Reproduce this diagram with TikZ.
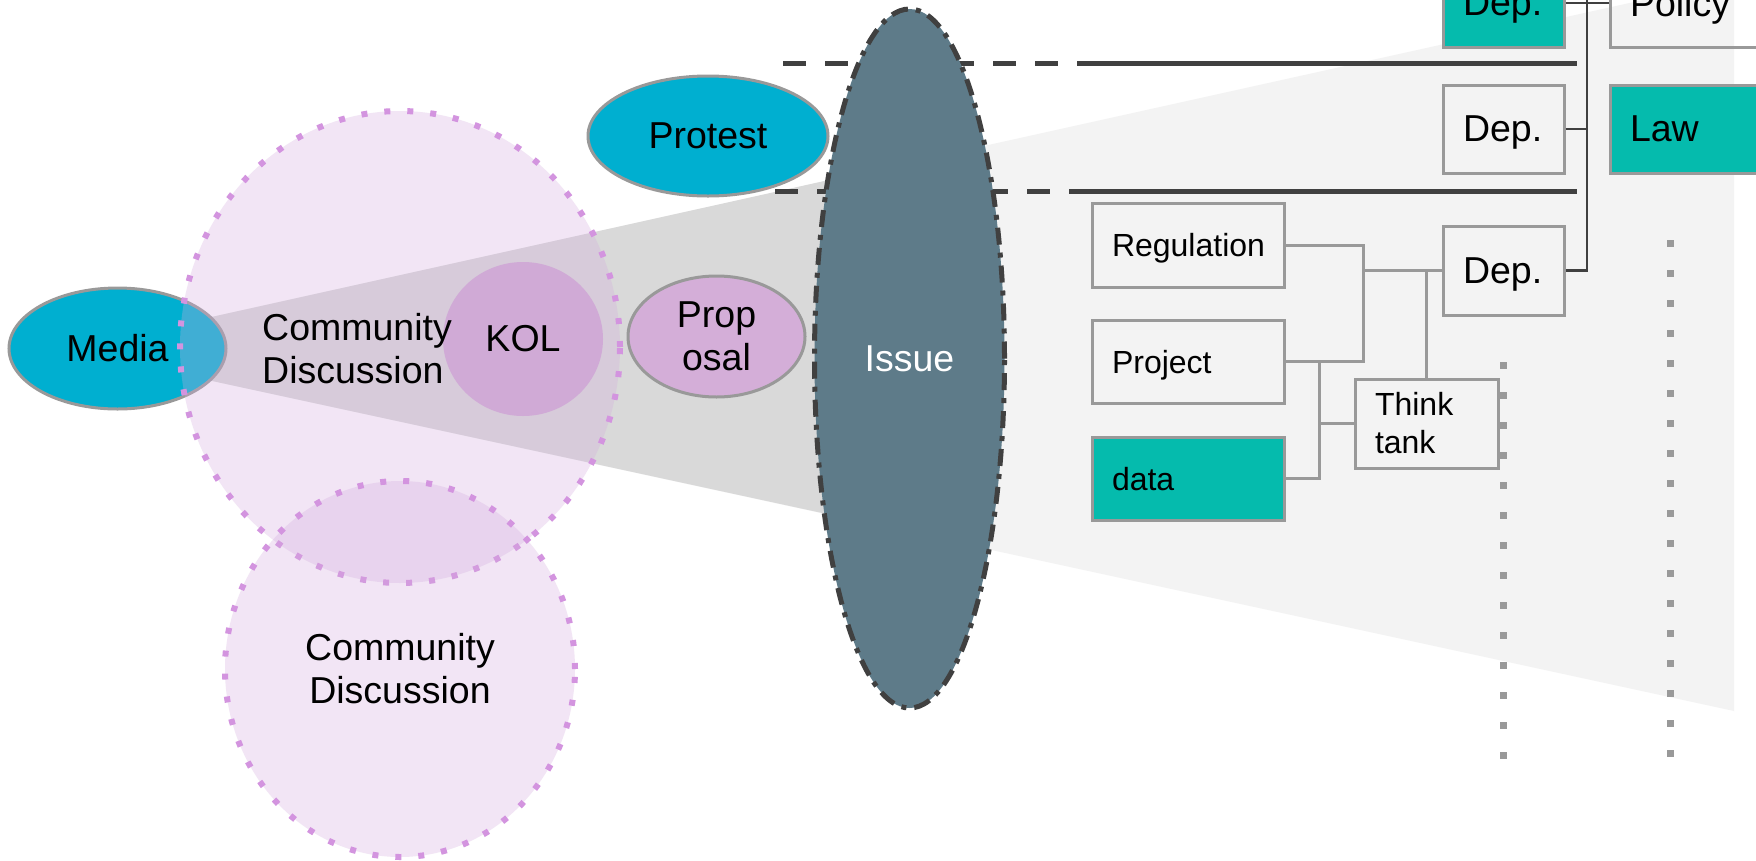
\documentclass[tikz,border=0pt]{standalone}
\usepackage{fontspec}
\setmainfont{Liberation Sans}
\usetikzlibrary{shapes.geometric}
\definecolor{cyanb}{HTML}{00AFD0}
\definecolor{tealb}{HTML}{05BBAD}
\definecolor{issuec}{HTML}{5E7B89}
\definecolor{bgray}{HTML}{999999}
\definecolor{dline}{HTML}{404040}
\definecolor{wedgeL}{HTML}{F3F3F3}
\definecolor{wedgeD}{HTML}{D9D9D9}
\definecolor{purp}{HTML}{D4ACDE}
\definecolor{purpdot}{HTML}{D394DF}
\definecolor{kolc}{HTML}{D0AAD6}
\definecolor{propc}{HTML}{D4AED8}
\tikzset{
  bigtxt/.style={font=\fontsize{37.5}{43}\selectfont},
  smalltxt/.style={font=\fontsize{32}{38}\selectfont},
  blob/.style={ellipse, draw=bgray, line width=3pt, inner sep=0pt},
  commc/.style={ellipse, fill=purp, fill opacity=0.3, text opacity=1, draw=purpdot, draw opacity=1, line width=6pt, dash pattern=on 6pt off 17pt, inner sep=0pt},
  boxbase/.style={rectangle, draw=bgray, line width=3pt, inner xsep=20pt, inner ysep=0pt, align=left},
  box/.style={boxbase, text depth=0pt},
  conn/.style={draw=bgray, line width=3pt},
  bus/.style={draw=dline, line width=2.5pt},
  dashln/.style={draw=dline, line width=5pt, dash pattern=on 23pt off 19pt},
  solidln/.style={draw=dline, line width=5pt},
  dotln/.style={draw=bgray, line width=7pt, dash pattern=on 7pt off 23pt},
  issuest/.style={ellipse, fill=issuec, draw=dline, line width=5pt, dash pattern=on 17pt off 8pt on 5pt off 8pt, inner sep=0pt, text=white}
}
\begin{document}
\begin{tikzpicture}[x=1pt,y=-1pt]
\useasboundingbox (0,0) rectangle (1756,860);
\fill[white] (0,0) rectangle (1756,860);

% wedges
\fill[wedgeL] (180,324) -- (1643,0) -- (1734,0) -- (1734,711) -- (180,374) -- cycle;
\fill[wedgeD] (180,324) -- (910,162) -- (910,532) -- (180,374) -- cycle;

% media
\node[blob, fill=cyanb, minimum width=217pt, minimum height=121pt, bigtxt] (media) at (117.5,348.5) {Media};

% community circles
\node[commc, minimum width=440pt, minimum height=472pt] (cd1) at (400,347) {};
\node[commc, minimum width=350pt, minimum height=376pt, bigtxt, align=center] (cd2) at (400,669) {Community\\Discussion};

% KOL
\node[ellipse, fill=kolc, minimum width=160pt, minimum height=154pt, inner sep=0pt, bigtxt] (kol) at (523,339) {KOL};
\node[bigtxt, align=left, anchor=west, inner sep=0pt] (cdt1) at (262,348.5) {Community\\Discussion};

% proposal, protest
\node[blob, fill=propc, minimum width=177pt, minimum height=121pt, bigtxt, align=center] (prop) at (716.5,336.5) {Prop\\osal};
\node[blob, fill=cyanb, minimum width=240pt, minimum height=120pt, bigtxt] (protest) at (708,136) {Protest};

% dashed / solid horizontal lines
\coordinate (t1) at (783,63);
\coordinate (t2) at (1090,63);
\coordinate (t3) at (1577,63);
\coordinate (b1) at (775,191);
\coordinate (b2) at (1090,191);
\coordinate (b3) at (1577,191);
\draw[dashln] (t1) -- (t2);
\draw[solidln] (t2) -- (t3);
\draw[dashln] (b1) -- (b2);
\draw[solidln] (b2) -- (b3);

% issue
\node[issuest, minimum width=190pt, minimum height=699pt, bigtxt] (issue) at (909.5,358.5) {Issue};

% boxes
\node[box, text width=152pt, minimum height=84pt, smalltxt] (reg) at (1188,245) {Regulation};
\node[box, text width=152pt, minimum height=83pt, smalltxt] (proj) at (1188,361.5) {Project};
\node[box, fill=tealb, text width=152pt, minimum height=83pt, smalltxt] (data) at (1188,478.5) {data};
\node[boxbase, text width=103pt, minimum height=89pt, smalltxt] (tt) at (1426.5,423.5) {Think\\tank};
\node[box, text width=81pt, minimum height=89pt, bigtxt] (dep3) at (1503.5,270.5) {Dep.};
\node[box, text width=81pt, minimum height=88pt, bigtxt] (dep2) at (1503.5,129) {Dep.};
\node[box, fill=tealb, text width=81pt, minimum height=88pt, bigtxt] (dep1) at (1503.5,3) {Dep.};
\node[box, text width=160pt, minimum height=88pt, bigtxt] (pol) at (1710,3) {Policy};
\node[box, fill=tealb, text width=160pt, minimum height=88pt, bigtxt] (law) at (1710,129) {Law};

% gray connectors
\coordinate (jA) at (1363,270.5);
\draw[conn] (reg.east) -| (jA) |- (proj.east);
\draw[conn] (jA) -- (dep3.west);
\draw[conn] (tt.north) -- (tt.north |- dep3.west);
\coordinate (jB) at (1319,423.5);
\draw[conn] (proj.east) -| (jB) |- (data.east);
\draw[conn] (jB) -- (tt.west);

% dark bus
\coordinate (busT) at (1587,-5);
\draw[bus] (busT) |- (dep3.east);
\draw[bus] (dep2.east) -- (dep2.east -| busT);
\draw[bus] (dep1.east) -- (pol.west);

% dotted verticals
\coordinate (v1a) at (1503,362);
\coordinate (v1b) at (1503,765);
\coordinate (v2a) at (1670,240);
\coordinate (v2b) at (1670,765);
\draw[dotln] (v1a) -- (v1b);
\draw[dotln] (v2a) -- (v2b);
\end{tikzpicture}
\end{document}
